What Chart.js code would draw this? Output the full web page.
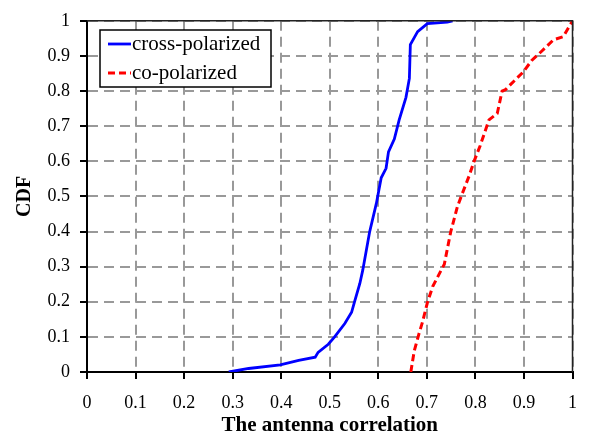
<!DOCTYPE html>
<html>
<head>
<meta charset="utf-8">
<script src="https://cdn.jsdelivr.net/npm/chart.js@4.4.1/dist/chart.umd.min.js"></script>
<style>
  html, body { margin: 0; padding: 0; background: #fff; }
  #wrap { width: 590px; height: 446px; }
</style>
</head>
<body>
<div id="wrap"><canvas id="cdfChart" width="590" height="446"></canvas></div>
<script>
// values
const crossX = [0.292, 0.333, 0.398, 0.436, 0.470, 0.476, 0.497, 0.510, 0.531, 0.545, 0.551, 0.562, 0.568,
                0.582, 0.596, 0.606, 0.616, 0.621, 0.633, 0.643, 0.657, 0.664, 0.666, 0.681, 0.701, 0.742, 0.753];
const crossY = [0, 0.010, 0.020, 0.033, 0.042, 0.056, 0.079, 0.100, 0.138, 0.170, 0.200, 0.252, 0.290,
                0.398, 0.480, 0.553, 0.580, 0.627, 0.663, 0.718, 0.782, 0.836, 0.932, 0.969, 0.992, 0.996, 1.0];

const coX = [0.667, 0.674, 0.684, 0.691, 0.701, 0.712, 0.722, 0.736, 0.749, 0.763, 0.773, 0.787, 0.797,
             0.810, 0.828, 0.845, 0.855, 0.862, 0.885, 0.899, 0.916, 0.937, 0.961, 0.981, 1.0];
const coY = [0, 0.060, 0.110, 0.142, 0.197, 0.243, 0.270, 0.307, 0.398, 0.471, 0.508, 0.558, 0.599,
             0.645, 0.718, 0.736, 0.800, 0.804, 0.836, 0.855, 0.887, 0.914, 0.946, 0.955, 1.0];

const seriesLabels = ['cross-polarized', 'co-polarized'];
const xTitle = 'The antenna correlation';
const yTitle = 'CDF';

const toPoints = (xs, ys) => xs.map((x, i) => ({ x: x, y: ys[i] }));

const serif = "'Liberation Serif', 'Times New Roman', serif";

const gridStyle = {
    color: '#999',
    lineWidth: 2,
    tickColor: '#000',
    tickWidth: 2,
    tickBorderDash: [],
    tickLength: 7
};
// in v4 border.dash is what dashes the grid lines
const borderStyle = { display: true, color: '#000', width: 2, dash: [10, 6] };

// frame round the plot + legend box inside it
const framePlugin = {
    id: 'frame',
    afterDraw(chart) {
        const ctx = chart.ctx;
        const a = chart.chartArea;
        ctx.save();
        ctx.strokeStyle = '#222';
        ctx.lineWidth = 1.5;
        ctx.beginPath();
        ctx.moveTo(a.left, a.top);
        ctx.lineTo(a.right, a.top);
        ctx.lineTo(a.right, a.bottom);
        ctx.stroke();

        // legend
        const bx = 100, by = 30, bw = 171, bh = 57;
        ctx.fillStyle = '#fff';
        ctx.fillRect(bx, by, bw, bh);
        ctx.strokeStyle = '#000';
        ctx.lineWidth = 1.5;
        ctx.strokeRect(bx, by, bw, bh);
        ctx.font = '21px ' + serif;
        ctx.textBaseline = 'middle';
        chart.data.datasets.forEach((ds, i) => {
            const y = by + 14 + i * 29;
            ctx.strokeStyle = ds.borderColor;
            ctx.lineWidth = ds.borderWidth;
            ctx.setLineDash(ds.borderDash || []);
            ctx.beginPath();
            ctx.moveTo(bx + 8, y);
            ctx.lineTo(bx + 31, y);
            ctx.stroke();
            ctx.setLineDash([]);
            ctx.fillStyle = '#000';
            ctx.fillText(ds.label, bx + 32, y);
        });
        ctx.restore();
    }
};

new Chart('cdfChart', {
    type: 'scatter',
    data: {
        datasets: [{
            label: seriesLabels[0],
            data: toPoints(crossX, crossY),
            showLine: true,
            borderColor: '#0000ff',
            borderWidth: 2.8,
            pointRadius: 0,
            tension: 0
        }, {
            label: seriesLabels[1],
            data: toPoints(coX, coY),
            showLine: true,
            borderColor: '#ff0000',
            borderWidth: 3,
            borderDash: [7, 4],
            pointRadius: 0,
            tension: 0
        }]
    },
    options: {
        responsive: false,
        animation: false,
        layout: { padding: { left: 0, right: 14, top: 7, bottom: 0 } },
        plugins: {
            legend: { display: false },
            tooltip: { enabled: false }
        },
        scales: {
            x: {
                type: 'linear',
                min: 0,
                max: 1,
                afterFit: s => { s.height = 74; },
                grid: gridStyle,
                border: borderStyle,
                ticks: {
                    stepSize: 0.1,
                    color: '#000',
                    padding: 13,
                    font: { family: serif, size: 18 },
                    callback: v => Math.round(v * 10) / 10
                },
                title: {
                    display: true,
                    text: xTitle,
                    color: '#000',
                    padding: { top: 0, bottom: 8 },
                    font: { family: serif, size: 21, weight: 'bold' }
                }
            },
            y: {
                type: 'linear',
                min: 0,
                max: 1,
                afterFit: s => { s.width = 87; },
                grid: gridStyle,
                border: borderStyle,
                ticks: {
                    stepSize: 0.1,
                    color: '#000',
                    padding: 10,
                    font: { family: serif, size: 18 },
                    callback: v => Math.round(v * 10) / 10
                },
                title: {
                    display: true,
                    text: yTitle,
                    color: '#000',
                    padding: { top: 13, bottom: 0 },
                    font: { family: serif, size: 20, weight: 'bold' }
                }
            }
        }
    },
    plugins: [framePlugin]
});
</script>
</body>
</html>
